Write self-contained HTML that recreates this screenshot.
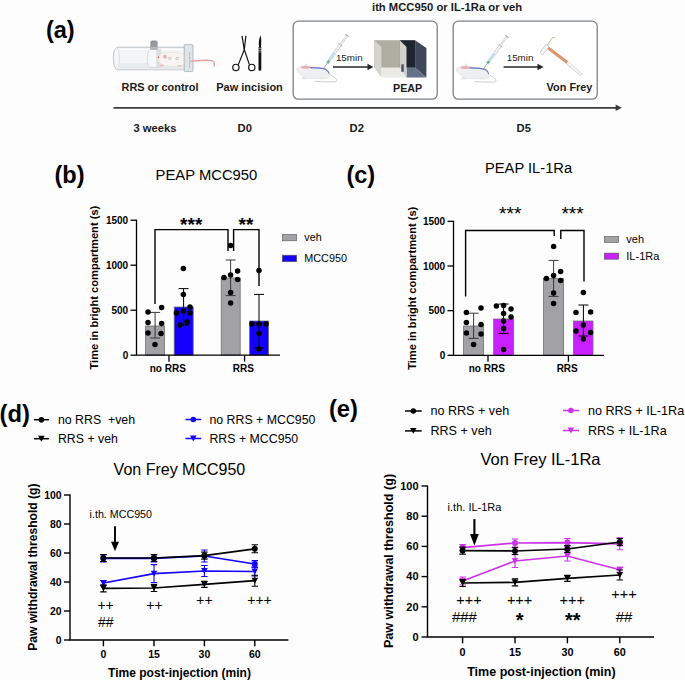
<!DOCTYPE html>
<html><head><meta charset="utf-8"><style>
html,body{margin:0;padding:0;background:#fff;}
svg{display:block;font-family:"Liberation Sans", sans-serif;}
</style></head><body>
<svg width="685" height="680" viewBox="0 0 685 680">
<rect width="685" height="680" fill="#fdfdfd"/>
<text x="45.9" y="38.1" font-size="23.6" text-anchor="start" fill="#000" style="font-weight:bold;" >(a)</text>
<text x="372.0" y="10.5" font-size="11.25" text-anchor="start" fill="#1a1a1a" style="font-weight:bold;" >ith MCC950 or IL-1Ra or veh</text>
<g>
<path d="M117.5,47.2 H184.5 V69.8 H117.5 A4.2,11.3 0 0 1 117.5,47.2 Z" fill="#f3f5f6" stroke="#b5babe" stroke-width="0.9" />
<rect x="119.5" y="63.2" width="65" height="6.1" fill="#e8ebed" stroke="none" stroke-width="0" />
<ellipse cx="116.6" cy="58.5" rx="2.9" ry="10.7" fill="#f6f7f8" stroke="#ccd0d3" stroke-width="0.6"/>
<line x1="120" y1="49.6" x2="183" y2="49.6" stroke="#ffffff" stroke-width="1.0" />
<path d="M150.5,49.4 H160.8 V67.3 H150.5 A3.2,8.95 0 0 1 150.5,49.4 Z" fill="#f7f8f9" stroke="#c3c7cb" stroke-width="0.6" />
<rect x="156.2" y="49.6" width="4.6" height="17.5" fill="#dcdfe2" stroke="none" stroke-width="0" />
<path d="M150.4,49.4 V42.6 Q150.4,40.6 152.4,40.6 H155.6 Q157.6,40.6 157.6,42.6 V49.4 Z" fill="#8e9296" stroke="none" stroke-width="1.0" />
<rect x="150.4" y="46.6" width="7.2" height="2.8" fill="#b3b7bb" stroke="none" stroke-width="0" />
<line x1="152.2" y1="41.5" x2="152.2" y2="46" stroke="#a5a9ad" stroke-width="0.5" />
<line x1="154" y1="41.5" x2="154" y2="46" stroke="#a5a9ad" stroke-width="0.5" />
<line x1="155.8" y1="41.5" x2="155.8" y2="46" stroke="#a5a9ad" stroke-width="0.5" />
<path d="M158.3,57.5 C159.5,54 163,52.3 168,52.4 C174,52.2 181,52.5 184.8,55 C186.2,57 186,62 184.6,64.5 C181,66.6 173,66.9 168,66.3 C164,66 160.5,64.5 158.8,61.5 Z" fill="#f7f4f2" stroke="#e2d6d2" stroke-width="0.5"/>
<ellipse cx="165" cy="56.6" rx="1.8" ry="2.2" fill="#eab3b1"/>
<ellipse cx="169.8" cy="58.4" rx="1.4" ry="1.1" fill="none" stroke="#9fa3a6" stroke-width="0.55"/>
<ellipse cx="177.2" cy="58.4" rx="1.4" ry="1.1" fill="none" stroke="#9fa3a6" stroke-width="0.55"/>
<circle cx="158.5" cy="57.3" r="0.7" fill="#c43a3a" />
<ellipse cx="162" cy="65.6" rx="2.2" ry="1" fill="#efc0bb"/>
<ellipse cx="179.4" cy="66" rx="2.2" ry="1" fill="#efc0bb"/>
<rect x="184.2" y="44.6" width="8.8" height="27" fill="#dfe5e8" stroke="#a7adb1" stroke-width="0.8" rx="1"/>
<line x1="189.6" y1="52" x2="189.6" y2="68" stroke="#a9afb3" stroke-width="0.7" />
<path d="M190.5,61.3 C198,60.6 207,59.6 211.5,60.6 C214.5,61.4 214.8,64 214,66.6" fill="none" stroke="#e89e9c" stroke-width="1.3" />
</g>
<g fill="none" stroke="#111" stroke-width="1.2">
<circle cx="235.9" cy="67.4" r="3.15"/>
<circle cx="251.8" cy="67.4" r="3.15"/>
<path d="M238.3,64.6 L244.3,49.6 L245.9,35.8"/>
<path d="M249.4,64.6 L244.3,49.6 L242.0,35.8"/>
</g>
<path d="M258.5,47.2 H261.3 V70.3 Q259.9,71.2 258.5,70.3 Z" fill="#111" stroke="none" stroke-width="1.0" />
<path d="M259.2,47.5 C258.4,43 258.6,39 260.7,35.2 C261.5,39 261.3,43 261.0,47.5 Z" fill="#111" stroke="none" stroke-width="1.0" />
<line x1="258.2" y1="48.6" x2="261.6" y2="48.6" stroke="#fff" stroke-width="0.5" />
<line x1="258.2" y1="50.3" x2="261.6" y2="50.3" stroke="#fff" stroke-width="0.5" />
<line x1="258.2" y1="52.0" x2="261.6" y2="52.0" stroke="#fff" stroke-width="0.5" />
<rect x="293.2" y="21.2" width="144" height="78" rx="5" fill="#fff" stroke="#7d8185" stroke-width="1.3"/>
<rect x="453.2" y="21.2" width="144" height="78" rx="5" fill="#fff" stroke="#7d8185" stroke-width="1.3"/>
<g transform="translate(296.6,68.9)"><path d="M33,5.5 C37.5,8 41.2,10.6 39.6,12.5 C37.5,13.6 26,12.7 18.4,12.5" fill="none" stroke="#c4c8cb" stroke-width="0.9"/><path d="M0,0 C1.5,-1.8 4,-3 8,-3.2 C14,-3.2 20,-1.8 27.5,-0.6 C30.5,0.2 32.8,3 33,6.5 C33,8.5 31.5,9.6 29,9.6 L12,9.6 C8,9.4 5,7 3,4.5 C1.5,3 0.2,1.6 0,0 Z" fill="#eeeff0" stroke="#d5d8da" stroke-width="0.5"/><path d="M6.5,7.5 L4.6,10.3 L10,10.3 L10.5,8.5 Z" fill="#e3e5e7"/><path d="M24,8 L23,10.4 L28,10.4 L29,8.5 Z" fill="#e6e8ea"/><ellipse cx="9" cy="-1.7" rx="4.4" ry="1.5" fill="#e7b2ae"/><circle cx="9.8" cy="-4.2" r="1.3" fill="#e3e5e7"/><path d="M13.3,-1.3 C20,-1 26,-0.7 28.5,0 C31,1.5 32.2,3.5 32.5,4.7" fill="none" stroke="#5f73c9" stroke-width="1.2"/><path d="M13.3,-1.3 C20,-1 26,-0.7 28.5,0 C31,1.5 32.2,3.5 32.5,4.7" fill="none" stroke="#d4898b" stroke-width="0.45" stroke-dasharray="1.2 1.2"/></g>
<g transform="translate(323.9,67.9) rotate(-54.40)"><line x1="0" y1="0" x2="6.11" y2="0" stroke="#6a6d70" stroke-width="0.6"/><rect x="6.11" y="-1.2" width="22.39" height="2.4" fill="#f4f6f7" stroke="#a9afb3" stroke-width="0.5"/><rect x="6.11" y="-0.95" width="3.05" height="1.9" fill="#4fb08f"/><rect x="9.16" y="-0.95" width="9.16" height="1.9" fill="#b7e3e8"/><line x1="28.50" y1="-2.3" x2="28.50" y2="2.3" stroke="#a9afb3" stroke-width="0.9"/><rect x="28.50" y="-0.8" width="11.41" height="1.6" fill="#eceff1" stroke="#b3b9bd" stroke-width="0.4"/><line x1="39.91" y1="-2.1" x2="39.91" y2="2.1" stroke="#a9afb3" stroke-width="1.1"/></g>
<g transform="translate(456.1,69.1)"><path d="M33,5.5 C37.5,8 41.2,10.6 39.6,12.5 C37.5,13.6 26,12.7 18.4,12.5" fill="none" stroke="#c4c8cb" stroke-width="0.9"/><path d="M0,0 C1.5,-1.8 4,-3 8,-3.2 C14,-3.2 20,-1.8 27.5,-0.6 C30.5,0.2 32.8,3 33,6.5 C33,8.5 31.5,9.6 29,9.6 L12,9.6 C8,9.4 5,7 3,4.5 C1.5,3 0.2,1.6 0,0 Z" fill="#eeeff0" stroke="#d5d8da" stroke-width="0.5"/><path d="M6.5,7.5 L4.6,10.3 L10,10.3 L10.5,8.5 Z" fill="#e3e5e7"/><path d="M24,8 L23,10.4 L28,10.4 L29,8.5 Z" fill="#e6e8ea"/><ellipse cx="9" cy="-1.7" rx="4.4" ry="1.5" fill="#e7b2ae"/><circle cx="9.8" cy="-4.2" r="1.3" fill="#e3e5e7"/><path d="M13.3,-1.3 C20,-1 26,-0.7 28.5,0 C31,1.5 32.2,3.5 32.5,4.7" fill="none" stroke="#5f73c9" stroke-width="1.2"/><path d="M13.3,-1.3 C20,-1 26,-0.7 28.5,0 C31,1.5 32.2,3.5 32.5,4.7" fill="none" stroke="#d4898b" stroke-width="0.45" stroke-dasharray="1.2 1.2"/></g>
<g transform="translate(483.9,68.3) rotate(-54.05)"><line x1="0" y1="0" x2="6.00" y2="0" stroke="#6a6d70" stroke-width="0.6"/><rect x="6.00" y="-1.2" width="22.01" height="2.4" fill="#f4f6f7" stroke="#a9afb3" stroke-width="0.5"/><rect x="6.00" y="-0.95" width="3.00" height="1.9" fill="#4fb08f"/><rect x="9.01" y="-0.95" width="9.01" height="1.9" fill="#b7e3e8"/><line x1="28.02" y1="-2.3" x2="28.02" y2="2.3" stroke="#a9afb3" stroke-width="0.9"/><rect x="28.02" y="-0.8" width="11.21" height="1.6" fill="#eceff1" stroke="#b3b9bd" stroke-width="0.4"/><line x1="39.23" y1="-2.1" x2="39.23" y2="2.1" stroke="#a9afb3" stroke-width="1.1"/></g>
<text x="335.9" y="61.3" font-size="9.8" text-anchor="start" fill="#222" style="" >15min</text>
<path d="M332.9,67 H368.5" fill="none" stroke="#262626" stroke-width="1.4" />
<path d="M367.5,63.8 L373.4,67 L367.5,70.2 Z" fill="#262626" stroke="none" stroke-width="1.0" />
<text x="506.7" y="61.3" font-size="9.8" text-anchor="start" fill="#222" style="" >15min</text>
<path d="M503.6,67 H538.5" fill="none" stroke="#262626" stroke-width="1.4" />
<path d="M537.5,63.8 L543.6,67 L537.5,70.2 Z" fill="#262626" stroke="none" stroke-width="1.0" />
<g>
<rect x="374.3" y="40.2" width="25.5" height="27.6" fill="#aeaea3" stroke="none" stroke-width="0" />
<path d="M374.3,40.2 L381.4,46.9 L381.4,77.5 L374.3,67.8 Z" fill="#d5d5cd" stroke="none" stroke-width="1.0" />
<path d="M381.4,67.8 L399.8,67.8 L406.5,77.5 L381.4,77.5 Z" fill="#ebebe5" stroke="none" stroke-width="1.0" />
<rect x="399.8" y="40.2" width="15.3" height="27.6" fill="#1e252e" stroke="none" stroke-width="0" />
<path d="M415.1,40.2 L426.4,47.9 L426.4,77.5 L415.1,67.8 Z" fill="#3f4758" stroke="none" stroke-width="1.0" />
<path d="M406.5,67.8 L415.1,67.8 L426.4,77.5 L406.5,77.5 Z" fill="#67718a" stroke="none" stroke-width="1.0" />
<path d="M399.8,40.2 L406.5,46.9 L406.5,77.5 L399.8,67.8 Z" fill="#d2d2ca" stroke="none" stroke-width="1.0" />
<rect x="401.3" y="64.3" width="2.5" height="7.5" fill="#4a5568" stroke="none" stroke-width="0" />
</g>
<g fill="none" stroke-linecap="round">
<path d="M567,62.4 L580.6,73.9" fill="none" stroke="#c3c8cb" stroke-width="3.3" />
<path d="M567,62.4 L580.6,73.9" fill="none" stroke="#f3f5f6" stroke-width="2.2" />
<path d="M547.6,47.4 L567.3,62.6" fill="none" stroke="#dc9670" stroke-width="3.1" stroke-linecap="butt"/>
<path d="M542.3,52.4 L546.8,46.6" fill="none" stroke="#b9bec2" stroke-width="4.4" />
<path d="M542.3,52.4 L546.8,46.6" fill="none" stroke="#f4f6f7" stroke-width="3.3" />
<path d="M547.4,45.2 C548.6,44 549.6,42.2 550.4,40.4 C551.2,38.6 552.4,37.4 554.6,37.4" fill="none" stroke="#b5a45a" stroke-width="0.75" />
</g>
<text x="121.6" y="90.8" font-size="10.9" text-anchor="start" fill="#1a1a1a" style="font-weight:bold;" >RRS or control</text>
<text x="216.2" y="90.8" font-size="11.0" text-anchor="start" fill="#1a1a1a" style="font-weight:bold;" >Paw incision</text>
<text x="393" y="91.6" font-size="10.7" text-anchor="start" fill="#1a1a1a" style="font-weight:bold;" >PEAP</text>
<text x="546.6" y="91.2" font-size="10.9" text-anchor="start" fill="#1a1a1a" style="font-weight:bold;" >Von Frey</text>
<path d="M113.6,107.8 H617" fill="none" stroke="#3a3a3a" stroke-width="1.8" />
<path d="M615.6,104.6 L621.8,107.8 L615.6,111 Z" fill="#3a3a3a" stroke="none" stroke-width="1.0" />
<text x="133.5" y="131.6" font-size="11.2" text-anchor="start" fill="#1a1a1a" style="font-weight:bold;" >3 weeks</text>
<text x="237.6" y="131.6" font-size="11.2" text-anchor="start" fill="#1a1a1a" style="font-weight:bold;" >D0</text>
<text x="349.6" y="131.8" font-size="11.2" text-anchor="start" fill="#1a1a1a" style="font-weight:bold;" >D2</text>
<text x="516.6" y="131.8" font-size="11.2" text-anchor="start" fill="#1a1a1a" style="font-weight:bold;" >D5</text>
<text x="54.4" y="183.4" font-size="23.6" text-anchor="start" fill="#000" style="font-weight:bold;" >(b)</text>
<text x="155.6" y="180" font-size="14.8" text-anchor="start" fill="#000" style="" >PEAP MCC950</text>
<text x="0" y="0" font-size="11.15" text-anchor="middle" fill="#000" style="font-weight:bold;" transform="translate(97.9,287.6) rotate(-90)">Time in bright compartment (s)</text>
<rect x="145.6" y="326" width="19" height="29.19999999999999" fill="#a2a2a6" stroke="#707070" stroke-width="0.8" />
<rect x="174.2" y="307" width="19" height="48.19999999999999" fill="#1400ff" stroke="#707070" stroke-width="0.8" />
<rect x="221.2" y="278" width="19" height="77.19999999999999" fill="#a2a2a6" stroke="#707070" stroke-width="0.8" />
<rect x="249.6" y="321" width="19" height="34.19999999999999" fill="#1400ff" stroke="#707070" stroke-width="0.8" />
<path d="M150.1,312.4 H160.1 M155.1,312.4 V338 M150.1,338 H160.1" fill="none" stroke="#3a3a3a" stroke-width="1.0" />
<path d="M178.6,288.6 H188.6 M183.6,288.6 V325 M178.6,325 H188.6" fill="none" stroke="#000" stroke-width="1.0" />
<path d="M225.6,260 H235.6 M230.6,260 V295.6 M225.6,295.6 H235.6" fill="none" stroke="#3a3a3a" stroke-width="1.0" />
<path d="M254,294.4 H264 M259,294.4 V348 M254,348 H264" fill="none" stroke="#000" stroke-width="1.0" />
<circle cx="148" cy="312" r="2.75" fill="#000" />
<circle cx="161.6" cy="307.6" r="2.75" fill="#000" />
<circle cx="148" cy="322.4" r="2.75" fill="#000" />
<circle cx="161.6" cy="323.6" r="2.75" fill="#000" />
<circle cx="148" cy="333" r="2.75" fill="#000" />
<circle cx="161" cy="333.6" r="2.75" fill="#000" />
<circle cx="155" cy="344.6" r="2.75" fill="#000" />
<circle cx="183.4" cy="268.4" r="2.75" fill="#000" />
<circle cx="183.4" cy="294.6" r="2.75" fill="#000" />
<circle cx="176.4" cy="313" r="2.75" fill="#000" />
<circle cx="183.4" cy="311" r="2.75" fill="#000" />
<circle cx="190" cy="307" r="2.75" fill="#000" />
<circle cx="190" cy="313" r="2.75" fill="#000" />
<circle cx="180" cy="325" r="2.75" fill="#000" />
<circle cx="187" cy="322" r="2.75" fill="#000" />
<circle cx="230.6" cy="245.6" r="2.75" fill="#000" />
<circle cx="224" cy="277.6" r="2.75" fill="#000" />
<circle cx="230.6" cy="275" r="2.75" fill="#000" />
<circle cx="237.6" cy="271" r="2.75" fill="#000" />
<circle cx="237.6" cy="279.4" r="2.75" fill="#000" />
<circle cx="230.6" cy="292.4" r="2.75" fill="#000" />
<circle cx="230.6" cy="303" r="2.75" fill="#000" />
<circle cx="259" cy="270.4" r="2.75" fill="#000" />
<circle cx="252" cy="324" r="2.75" fill="#000" />
<circle cx="259" cy="324" r="2.75" fill="#000" />
<circle cx="266" cy="324" r="2.75" fill="#000" />
<circle cx="259" cy="333.6" r="2.75" fill="#000" />
<circle cx="259" cy="349" r="2.75" fill="#000" />
<path d="M136.5,219.7 V355.2 H280" fill="none" stroke="#000" stroke-width="1.3" />
<line x1="130.5" y1="355.2" x2="136.5" y2="355.2" stroke="#000" stroke-width="1.3" />
<text x="128.2" y="358.7" font-size="10" text-anchor="end" fill="#000" style="font-weight:bold;" >0</text>
<line x1="130.5" y1="310.2" x2="136.5" y2="310.2" stroke="#000" stroke-width="1.3" />
<text x="128.2" y="313.7" font-size="10" text-anchor="end" fill="#000" style="font-weight:bold;" >500</text>
<line x1="130.5" y1="265.2" x2="136.5" y2="265.2" stroke="#000" stroke-width="1.3" />
<text x="128.2" y="268.7" font-size="10" text-anchor="end" fill="#000" style="font-weight:bold;" >1000</text>
<line x1="130.5" y1="220.2" x2="136.5" y2="220.2" stroke="#000" stroke-width="1.3" />
<text x="128.2" y="223.7" font-size="10" text-anchor="end" fill="#000" style="font-weight:bold;" >1500</text>
<line x1="169" y1="355.2" x2="169" y2="361.7" stroke="#000" stroke-width="1.3" />
<text x="167.8" y="371.5" font-size="10" text-anchor="middle" fill="#000" style="font-weight:bold;" >no RRS</text>
<line x1="244.6" y1="355.2" x2="244.6" y2="361.7" stroke="#000" stroke-width="1.3" />
<text x="243.4" y="371.5" font-size="10" text-anchor="middle" fill="#000" style="font-weight:bold;" >RRS</text>
<path d="M155,304 V229.6 H228 V251 M233.6,251 V229.6 H259 V286" fill="none" stroke="#000" stroke-width="1.4" />
<text x="191.2" y="230.8" font-size="19" text-anchor="middle" fill="#000" style="font-weight:bold;" >***</text>
<text x="246" y="230.8" font-size="19" text-anchor="middle" fill="#000" style="font-weight:bold;" >**</text>
<rect x="282.3" y="234.5" width="14.4" height="6.3" fill="#a2a2a6" stroke="#555" stroke-width="0.6" />
<text x="304.3" y="240.9" font-size="10.8" text-anchor="start" fill="#000" style="" >veh</text>
<rect x="282.3" y="255.2" width="14.4" height="6.5" fill="#1400ff" stroke="#555" stroke-width="0.6" />
<text x="304.3" y="261.6" font-size="10.8" text-anchor="start" fill="#000" style="" >MCC950</text>
<text x="346.4" y="182.6" font-size="23.6" text-anchor="start" fill="#000" style="font-weight:bold;" >(c)</text>
<text x="485" y="173.4" font-size="14.7" text-anchor="start" fill="#000" style="" >PEAP IL-1Ra</text>
<text x="0" y="0" font-size="11.1" text-anchor="middle" fill="#000" style="font-weight:bold;" transform="translate(415.9,288.3) rotate(-90)">Time in bright compartment (s)</text>
<rect x="463.6" y="326" width="20" height="29.30000000000001" fill="#a2a2a6" stroke="#707070" stroke-width="0.8" />
<rect x="493.6" y="319" width="20" height="36.30000000000001" fill="#c820ff" stroke="#707070" stroke-width="0.8" />
<rect x="543.6" y="278.4" width="20" height="76.90000000000003" fill="#a2a2a6" stroke="#707070" stroke-width="0.8" />
<rect x="573.4" y="321" width="19.6" height="34.30000000000001" fill="#c820ff" stroke="#707070" stroke-width="0.8" />
<path d="M468.6,313.2 H478.6 M473.6,313.2 V338.4 M468.6,338.4 H478.6" fill="none" stroke="#3a3a3a" stroke-width="1.0" />
<path d="M498.6,304 H508.6 M503.6,304 V333.4 M498.6,333.4 H508.6" fill="none" stroke="#000" stroke-width="1.0" />
<path d="M548.6,260.4 H558.6 M553.6,260.4 V296.4 M548.6,296.4 H558.6" fill="none" stroke="#3a3a3a" stroke-width="1.0" />
<path d="M578.4,305 H588.4 M583.4,305 V336 M578.4,336 H588.4" fill="none" stroke="#000" stroke-width="1.0" />
<circle cx="466.4" cy="312.4" r="2.75" fill="#000" />
<circle cx="481" cy="308" r="2.75" fill="#000" />
<circle cx="466.4" cy="322.4" r="2.75" fill="#000" />
<circle cx="481" cy="324.4" r="2.75" fill="#000" />
<circle cx="466.4" cy="333" r="2.75" fill="#000" />
<circle cx="481" cy="334" r="2.75" fill="#000" />
<circle cx="473.6" cy="344.6" r="2.75" fill="#000" />
<circle cx="496.4" cy="306" r="2.75" fill="#000" />
<circle cx="503.6" cy="305.6" r="2.75" fill="#000" />
<circle cx="511" cy="309" r="2.75" fill="#000" />
<circle cx="503.6" cy="313.6" r="2.75" fill="#000" />
<circle cx="511" cy="317" r="2.75" fill="#000" />
<circle cx="503.6" cy="321" r="2.75" fill="#000" />
<circle cx="503.6" cy="328.6" r="2.75" fill="#000" />
<circle cx="503.6" cy="349.6" r="2.75" fill="#000" />
<circle cx="553.6" cy="246.6" r="2.75" fill="#000" />
<circle cx="546.4" cy="278.4" r="2.75" fill="#000" />
<circle cx="553.6" cy="275.6" r="2.75" fill="#000" />
<circle cx="560.6" cy="271.6" r="2.75" fill="#000" />
<circle cx="560.6" cy="280.4" r="2.75" fill="#000" />
<circle cx="553.6" cy="293" r="2.75" fill="#000" />
<circle cx="553.6" cy="303.6" r="2.75" fill="#000" />
<circle cx="583.4" cy="292.6" r="2.75" fill="#000" />
<circle cx="576" cy="312.4" r="2.75" fill="#000" />
<circle cx="590.6" cy="312" r="2.75" fill="#000" />
<circle cx="583.4" cy="325" r="2.75" fill="#000" />
<circle cx="576" cy="331" r="2.75" fill="#000" />
<circle cx="590.6" cy="332.4" r="2.75" fill="#000" />
<circle cx="583.4" cy="339" r="2.75" fill="#000" />
<path d="M453.5,220.85 V355.3 H604" fill="none" stroke="#000" stroke-width="1.3" />
<line x1="447.5" y1="355.3" x2="453.5" y2="355.3" stroke="#000" stroke-width="1.3" />
<text x="445.2" y="358.8" font-size="10" text-anchor="end" fill="#000" style="font-weight:bold;" >0</text>
<line x1="447.5" y1="310.65" x2="453.5" y2="310.65" stroke="#000" stroke-width="1.3" />
<text x="445.2" y="314.15" font-size="10" text-anchor="end" fill="#000" style="font-weight:bold;" >500</text>
<line x1="447.5" y1="266.0" x2="453.5" y2="266.0" stroke="#000" stroke-width="1.3" />
<text x="445.2" y="269.5" font-size="10" text-anchor="end" fill="#000" style="font-weight:bold;" >1000</text>
<line x1="447.5" y1="221.35" x2="453.5" y2="221.35" stroke="#000" stroke-width="1.3" />
<text x="445.2" y="224.85" font-size="10" text-anchor="end" fill="#000" style="font-weight:bold;" >1500</text>
<line x1="488" y1="355.3" x2="488" y2="361.8" stroke="#000" stroke-width="1.3" />
<text x="486.8" y="371.6" font-size="10" text-anchor="middle" fill="#000" style="font-weight:bold;" >no RRS</text>
<line x1="568.4" y1="355.3" x2="568.4" y2="361.8" stroke="#000" stroke-width="1.3" />
<text x="567.1999999999999" y="371.6" font-size="10" text-anchor="middle" fill="#000" style="font-weight:bold;" >RRS</text>
<path d="M465.6,296.4 V230.5 H554.2 V236 M560.8,239 V230.5 H584 V281.4" fill="none" stroke="#000" stroke-width="1.4" />
<text x="510.2" y="220.3" font-size="19.2" text-anchor="middle" fill="#000" style="" >***</text>
<text x="572.6" y="220.3" font-size="19.2" text-anchor="middle" fill="#000" style="" >***</text>
<rect x="604.4" y="236.5" width="14.2" height="6.0" fill="#a2a2a6" stroke="#555" stroke-width="0.6" />
<text x="626.3" y="243.1" font-size="11" text-anchor="start" fill="#000" style="" >veh</text>
<rect x="604.4" y="253.1" width="14.2" height="6.1" fill="#c820ff" stroke="#555" stroke-width="0.6" />
<text x="626.3" y="259.5" font-size="11" text-anchor="start" fill="#000" style="" >IL-1Ra</text>
<text x="-0.5" y="422.3" font-size="23.8" text-anchor="start" fill="#000" style="font-weight:bold;" >(d)</text>
<text x="113.6" y="474.8" font-size="16" text-anchor="start" fill="#000" style="" >Von Frey MCC950</text>
<text x="0" y="0" font-size="12.1" text-anchor="middle" fill="#000" style="font-weight:bold;" transform="translate(36.9,567.2) rotate(-90)">Paw withdrawal threshold (g)</text>
<line x1="33.9" y1="419.7" x2="48.9" y2="419.7" stroke="#000" stroke-width="1.5" />
<circle cx="41.4" cy="419.7" r="2.8" fill="#000" />
<text x="57.9" y="424" font-size="12.35" text-anchor="start" fill="#000" style="" >no RRS&#160; +veh</text>
<line x1="33.9" y1="438.7" x2="48.9" y2="438.7" stroke="#000" stroke-width="1.5" />
<path d="M38.10,435.73 L44.70,435.73 L41.40,441.67 Z" fill="#000"/>
<text x="57.9" y="442.7" font-size="12.35" text-anchor="start" fill="#000" style="" >RRS + veh</text>
<line x1="185.5" y1="419.5" x2="201.2" y2="419.5" stroke="#1400ff" stroke-width="1.5" />
<circle cx="193.3" cy="419.5" r="2.8" fill="#1400ff" />
<text x="209.4" y="424" font-size="12.35" text-anchor="start" fill="#000" style="" >no RRS + MCC950</text>
<line x1="185.5" y1="438.5" x2="201.2" y2="438.5" stroke="#1400ff" stroke-width="1.5" />
<path d="M190.00,435.53 L196.60,435.53 L193.30,441.47 Z" fill="#1400ff"/>
<text x="209.4" y="442.7" font-size="12.35" text-anchor="start" fill="#000" style="" >RRS + MCC950</text>
<path d="M70,494.5 V640 H288.4" fill="none" stroke="#000" stroke-width="1.4" />
<line x1="64" y1="640.0" x2="70" y2="640.0" stroke="#000" stroke-width="1.4" />
<text x="61.6" y="643.8" font-size="10.4" text-anchor="end" fill="#000" style="font-weight:bold;" >0</text>
<line x1="64" y1="611.0" x2="70" y2="611.0" stroke="#000" stroke-width="1.4" />
<text x="61.6" y="614.8" font-size="10.4" text-anchor="end" fill="#000" style="font-weight:bold;" >20</text>
<line x1="64" y1="582.0" x2="70" y2="582.0" stroke="#000" stroke-width="1.4" />
<text x="61.6" y="585.8" font-size="10.4" text-anchor="end" fill="#000" style="font-weight:bold;" >40</text>
<line x1="64" y1="553.0" x2="70" y2="553.0" stroke="#000" stroke-width="1.4" />
<text x="61.6" y="556.8" font-size="10.4" text-anchor="end" fill="#000" style="font-weight:bold;" >60</text>
<line x1="64" y1="524.0" x2="70" y2="524.0" stroke="#000" stroke-width="1.4" />
<text x="61.6" y="527.8" font-size="10.4" text-anchor="end" fill="#000" style="font-weight:bold;" >80</text>
<line x1="64" y1="495.0" x2="70" y2="495.0" stroke="#000" stroke-width="1.4" />
<text x="61.6" y="498.8" font-size="10.4" text-anchor="end" fill="#000" style="font-weight:bold;" >100</text>
<line x1="103.4" y1="640" x2="103.4" y2="646.3" stroke="#000" stroke-width="1.4" />
<text x="103.4" y="657.5" font-size="10.5" text-anchor="middle" fill="#000" style="font-weight:bold;" >0</text>
<line x1="154" y1="640" x2="154" y2="646.3" stroke="#000" stroke-width="1.4" />
<text x="154" y="657.5" font-size="10.5" text-anchor="middle" fill="#000" style="font-weight:bold;" >15</text>
<line x1="204.4" y1="640" x2="204.4" y2="646.3" stroke="#000" stroke-width="1.4" />
<text x="204.4" y="657.5" font-size="10.5" text-anchor="middle" fill="#000" style="font-weight:bold;" >30</text>
<line x1="254.8" y1="640" x2="254.8" y2="646.3" stroke="#000" stroke-width="1.4" />
<text x="254.8" y="657.5" font-size="10.5" text-anchor="middle" fill="#000" style="font-weight:bold;" >60</text>
<text x="179.5" y="676.7" font-size="12.05" text-anchor="middle" fill="#000" style="font-weight:bold;" >Time post-injection (min)</text>
<text x="89.6" y="518.4" font-size="10.7" text-anchor="start" fill="#000" style="" >i.th. MCC950</text>
<line x1="115" y1="526.2" x2="115" y2="543.8000000000001" stroke="#000" stroke-width="1.9" />
<path d="M111.05,541.8000000000001 L118.95,541.8000000000001 L115,551.2 Z" fill="#000"/>
<polyline points="103.4,558.4 154,558.4 204.4,556 254.8,564" fill="none" stroke="#1400ff" stroke-width="1.7"/>
<polyline points="103.4,583 154,573.6 204.4,571 254.8,571.5" fill="none" stroke="#1400ff" stroke-width="1.7"/>
<polyline points="103.4,558 154,558 204.4,555.6 254.8,548.8" fill="none" stroke="#000" stroke-width="1.7"/>
<polyline points="103.4,588.4 154,588 204.4,584.4 254.8,580.7" fill="none" stroke="#000" stroke-width="1.7"/>
<path d="M100.2,554.9 H106.60000000000001 M103.4,554.9 V561.9 M100.2,561.9 H106.60000000000001" fill="none" stroke="#1400ff" stroke-width="1.1" />
<circle cx="103.4" cy="558.4" r="3.0" fill="#1400ff" />
<path d="M150.8,554.9 H157.2 M154,554.9 V561.9 M150.8,561.9 H157.2" fill="none" stroke="#1400ff" stroke-width="1.1" />
<circle cx="154" cy="558.4" r="3.0" fill="#1400ff" />
<path d="M201.20000000000002,550 H207.6 M204.4,550 V562 M201.20000000000002,562 H207.6" fill="none" stroke="#1400ff" stroke-width="1.1" />
<circle cx="204.4" cy="556" r="3.0" fill="#1400ff" />
<path d="M251.60000000000002,560.6 H258.0 M254.8,560.6 V567.4 M251.60000000000002,567.4 H258.0" fill="none" stroke="#1400ff" stroke-width="1.1" />
<circle cx="254.8" cy="564" r="3.0" fill="#1400ff" />
<path d="M100.2,580.5 H106.60000000000001 M103.4,580.5 V585.5 M100.2,585.5 H106.60000000000001" fill="none" stroke="#1400ff" stroke-width="1.1" />
<path d="M100.10,580.03 L106.70,580.03 L103.40,585.97 Z" fill="#1400ff"/>
<path d="M150.8,564.6 H157.2 M154,564.6 V582.6 M150.8,582.6 H157.2" fill="none" stroke="#1400ff" stroke-width="1.1" />
<path d="M150.70,570.63 L157.30,570.63 L154.00,576.57 Z" fill="#1400ff"/>
<path d="M201.20000000000002,565.5 H207.6 M204.4,565.5 V576.5 M201.20000000000002,576.5 H207.6" fill="none" stroke="#1400ff" stroke-width="1.1" />
<path d="M201.10,568.03 L207.70,568.03 L204.40,573.97 Z" fill="#1400ff"/>
<path d="M251.60000000000002,567.0 H258.0 M254.8,567.0 V576.0 M251.60000000000002,576.0 H258.0" fill="none" stroke="#1400ff" stroke-width="1.1" />
<path d="M251.50,568.53 L258.10,568.53 L254.80,574.47 Z" fill="#1400ff"/>
<path d="M100.2,554.5 H106.60000000000001 M103.4,554.5 V561.5 M100.2,561.5 H106.60000000000001" fill="none" stroke="#000" stroke-width="1.1" />
<circle cx="103.4" cy="558" r="3.0" fill="#000" />
<path d="M150.8,554.5 H157.2 M154,554.5 V561.5 M150.8,561.5 H157.2" fill="none" stroke="#000" stroke-width="1.1" />
<circle cx="154" cy="558" r="3.0" fill="#000" />
<path d="M201.20000000000002,552.1 H207.6 M204.4,552.1 V559.1 M201.20000000000002,559.1 H207.6" fill="none" stroke="#000" stroke-width="1.1" />
<circle cx="204.4" cy="555.6" r="3.0" fill="#000" />
<path d="M251.60000000000002,544.8 H258.0 M254.8,544.8 V552.8 M251.60000000000002,552.8 H258.0" fill="none" stroke="#000" stroke-width="1.1" />
<circle cx="254.8" cy="548.8" r="3.0" fill="#000" />
<path d="M100.2,584.9 H106.60000000000001 M103.4,584.9 V591.9 M100.2,591.9 H106.60000000000001" fill="none" stroke="#000" stroke-width="1.1" />
<path d="M100.10,585.43 L106.70,585.43 L103.40,591.37 Z" fill="#000"/>
<path d="M150.8,584.5 H157.2 M154,584.5 V591.5 M150.8,591.5 H157.2" fill="none" stroke="#000" stroke-width="1.1" />
<path d="M150.70,585.03 L157.30,585.03 L154.00,590.97 Z" fill="#000"/>
<path d="M201.20000000000002,581.4 H207.6 M204.4,581.4 V587.4 M201.20000000000002,587.4 H207.6" fill="none" stroke="#000" stroke-width="1.1" />
<path d="M201.10,581.43 L207.70,581.43 L204.40,587.37 Z" fill="#000"/>
<path d="M251.60000000000002,575.2 H258.0 M254.8,575.2 V586.2 M251.60000000000002,586.2 H258.0" fill="none" stroke="#000" stroke-width="1.1" />
<path d="M251.50,577.73 L258.10,577.73 L254.80,583.67 Z" fill="#000"/>
<text x="105.6" y="610" font-size="14" text-anchor="middle" fill="#000" style="" >++</text>
<text x="154.4" y="610" font-size="14" text-anchor="middle" fill="#000" style="" >++</text>
<text x="204.5" y="604.6" font-size="14" text-anchor="middle" fill="#000" style="" >++</text>
<text x="259.5" y="604.6" font-size="14" text-anchor="middle" fill="#000" style="" >+++</text>
<text x="105.7" y="627.4" font-size="14" text-anchor="middle" fill="#000" style="" >##</text>
<text x="328.9" y="417.1" font-size="23.8" text-anchor="start" fill="#000" style="font-weight:bold;" >(e)</text>
<text x="480.4" y="465.4" font-size="16.5" text-anchor="start" fill="#000" style="" >Von Frey IL-1Ra</text>
<text x="0" y="0" font-size="12.6" text-anchor="middle" fill="#000" style="font-weight:bold;" transform="translate(393,561) rotate(-90)">Paw withdrawal threshold (g)</text>
<line x1="405" y1="411" x2="421.7" y2="411" stroke="#000" stroke-width="1.5" />
<circle cx="413.3" cy="411" r="2.8" fill="#000" />
<text x="430.4" y="415.2" font-size="12.6" text-anchor="start" fill="#000" style="" >no RRS + veh</text>
<line x1="405" y1="430.9" x2="421.7" y2="430.9" stroke="#000" stroke-width="1.5" />
<path d="M410.00,427.93 L416.60,427.93 L413.30,433.87 Z" fill="#000"/>
<text x="430.4" y="435" font-size="12.6" text-anchor="start" fill="#000" style="" >RRS + veh</text>
<line x1="563" y1="410.5" x2="579.1" y2="410.5" stroke="#cc33e8" stroke-width="1.5" />
<circle cx="570.9" cy="410.5" r="2.8" fill="#cc33e8" />
<text x="587.9" y="415.2" font-size="12.6" text-anchor="start" fill="#000" style="" >no RRS + IL-1Ra</text>
<line x1="563" y1="430.5" x2="579.1" y2="430.5" stroke="#cc33e8" stroke-width="1.5" />
<path d="M567.60,427.53 L574.20,427.53 L570.90,433.47 Z" fill="#cc33e8"/>
<text x="587.9" y="434.9" font-size="12.6" text-anchor="start" fill="#000" style="" >RRS + IL-1Ra</text>
<path d="M427.5,485.5 V637 H654" fill="none" stroke="#000" stroke-width="1.4" />
<line x1="421.5" y1="637.0" x2="427.5" y2="637.0" stroke="#000" stroke-width="1.4" />
<text x="418.6" y="640.8" font-size="11" text-anchor="end" fill="#000" style="font-weight:bold;" >0</text>
<line x1="421.5" y1="606.8" x2="427.5" y2="606.8" stroke="#000" stroke-width="1.4" />
<text x="418.6" y="610.5999999999999" font-size="11" text-anchor="end" fill="#000" style="font-weight:bold;" >20</text>
<line x1="421.5" y1="576.6" x2="427.5" y2="576.6" stroke="#000" stroke-width="1.4" />
<text x="418.6" y="580.4" font-size="11" text-anchor="end" fill="#000" style="font-weight:bold;" >40</text>
<line x1="421.5" y1="546.4" x2="427.5" y2="546.4" stroke="#000" stroke-width="1.4" />
<text x="418.6" y="550.1999999999999" font-size="11" text-anchor="end" fill="#000" style="font-weight:bold;" >60</text>
<line x1="421.5" y1="516.2" x2="427.5" y2="516.2" stroke="#000" stroke-width="1.4" />
<text x="418.6" y="520.0" font-size="11" text-anchor="end" fill="#000" style="font-weight:bold;" >80</text>
<line x1="421.5" y1="486.0" x2="427.5" y2="486.0" stroke="#000" stroke-width="1.4" />
<text x="418.6" y="489.8" font-size="11" text-anchor="end" fill="#000" style="font-weight:bold;" >100</text>
<line x1="462.6" y1="637" x2="462.6" y2="643.3" stroke="#000" stroke-width="1.4" />
<text x="462.6" y="655.6" font-size="10.8" text-anchor="middle" fill="#000" style="font-weight:bold;" >0</text>
<line x1="515" y1="637" x2="515" y2="643.3" stroke="#000" stroke-width="1.4" />
<text x="515" y="655.6" font-size="10.8" text-anchor="middle" fill="#000" style="font-weight:bold;" >15</text>
<line x1="567.4" y1="637" x2="567.4" y2="643.3" stroke="#000" stroke-width="1.4" />
<text x="567.4" y="655.6" font-size="10.8" text-anchor="middle" fill="#000" style="font-weight:bold;" >30</text>
<line x1="619.8" y1="637" x2="619.8" y2="643.3" stroke="#000" stroke-width="1.4" />
<text x="619.8" y="655.6" font-size="10.8" text-anchor="middle" fill="#000" style="font-weight:bold;" >60</text>
<text x="541.4" y="675.9" font-size="12.5" text-anchor="middle" fill="#000" style="font-weight:bold;" >Time post-injection (min)</text>
<text x="447.6" y="510.7" font-size="11" text-anchor="start" fill="#000" style="" >i.th. IL-1Ra</text>
<line x1="474.4" y1="519.1" x2="474.4" y2="536.0" stroke="#000" stroke-width="2.1" />
<path d="M470.0,534.0 L478.79999999999995,534.0 L474.4,545.5 Z" fill="#000"/>
<polyline points="462.6,547.6 515,543 567.4,542.6 619.8,543.8" fill="none" stroke="#cc33e8" stroke-width="1.7"/>
<polyline points="462.6,581 515,561 567.4,556 619.8,569.8" fill="none" stroke="#cc33e8" stroke-width="1.7"/>
<polyline points="462.6,550.6 515,551 567.4,549 619.8,542" fill="none" stroke="#000" stroke-width="1.7"/>
<polyline points="462.6,583 515,582.4 567.4,578.4 619.8,575" fill="none" stroke="#000" stroke-width="1.7"/>
<path d="M459.40000000000003,544.6 H465.8 M462.6,544.6 V550.6 M459.40000000000003,550.6 H465.8" fill="none" stroke="#cc33e8" stroke-width="1.1" />
<circle cx="462.6" cy="547.6" r="3.0" fill="#cc33e8" />
<path d="M511.8,539 H518.2 M515,539 V547 M511.8,547 H518.2" fill="none" stroke="#cc33e8" stroke-width="1.1" />
<circle cx="515" cy="543" r="3.0" fill="#cc33e8" />
<path d="M564.1999999999999,538.6 H570.6 M567.4,538.6 V546.6 M564.1999999999999,546.6 H570.6" fill="none" stroke="#cc33e8" stroke-width="1.1" />
<circle cx="567.4" cy="542.6" r="3.0" fill="#cc33e8" />
<path d="M616.5999999999999,537.8 H623.0 M619.8,537.8 V549.8 M616.5999999999999,549.8 H623.0" fill="none" stroke="#cc33e8" stroke-width="1.1" />
<circle cx="619.8" cy="543.8" r="3.0" fill="#cc33e8" />
<path d="M459.40000000000003,577 H465.8 M462.6,577 V585 M459.40000000000003,585 H465.8" fill="none" stroke="#cc33e8" stroke-width="1.1" />
<path d="M459.30,578.03 L465.90,578.03 L462.60,583.97 Z" fill="#cc33e8"/>
<path d="M511.8,554.5 H518.2 M515,554.5 V567.5 M511.8,567.5 H518.2" fill="none" stroke="#cc33e8" stroke-width="1.1" />
<path d="M511.70,558.03 L518.30,558.03 L515.00,563.97 Z" fill="#cc33e8"/>
<path d="M564.1999999999999,551 H570.6 M567.4,551 V561 M564.1999999999999,561 H570.6" fill="none" stroke="#cc33e8" stroke-width="1.1" />
<path d="M564.10,553.03 L570.70,553.03 L567.40,558.97 Z" fill="#cc33e8"/>
<path d="M616.5999999999999,567.3 H623.0 M619.8,567.3 V572.3 M616.5999999999999,572.3 H623.0" fill="none" stroke="#cc33e8" stroke-width="1.1" />
<path d="M616.50,566.83 L623.10,566.83 L619.80,572.77 Z" fill="#cc33e8"/>
<path d="M459.40000000000003,547.1 H465.8 M462.6,547.1 V554.1 M459.40000000000003,554.1 H465.8" fill="none" stroke="#000" stroke-width="1.1" />
<circle cx="462.6" cy="550.6" r="3.0" fill="#000" />
<path d="M511.8,547.5 H518.2 M515,547.5 V554.5 M511.8,554.5 H518.2" fill="none" stroke="#000" stroke-width="1.1" />
<circle cx="515" cy="551" r="3.0" fill="#000" />
<path d="M564.1999999999999,545.5 H570.6 M567.4,545.5 V552.5 M564.1999999999999,552.5 H570.6" fill="none" stroke="#000" stroke-width="1.1" />
<circle cx="567.4" cy="549" r="3.0" fill="#000" />
<path d="M616.5999999999999,538.5 H623.0 M619.8,538.5 V545.5 M616.5999999999999,545.5 H623.0" fill="none" stroke="#000" stroke-width="1.1" />
<circle cx="619.8" cy="542" r="3.0" fill="#000" />
<path d="M459.40000000000003,579.5 H465.8 M462.6,579.5 V586.5 M459.40000000000003,586.5 H465.8" fill="none" stroke="#000" stroke-width="1.1" />
<path d="M459.30,580.03 L465.90,580.03 L462.60,585.97 Z" fill="#000"/>
<path d="M511.8,578.9 H518.2 M515,578.9 V585.9 M511.8,585.9 H518.2" fill="none" stroke="#000" stroke-width="1.1" />
<path d="M511.70,579.43 L518.30,579.43 L515.00,585.37 Z" fill="#000"/>
<path d="M564.1999999999999,575.4 H570.6 M567.4,575.4 V581.4 M564.1999999999999,581.4 H570.6" fill="none" stroke="#000" stroke-width="1.1" />
<path d="M564.10,575.43 L570.70,575.43 L567.40,581.37 Z" fill="#000"/>
<path d="M616.5999999999999,570 H623.0 M619.8,570 V580 M616.5999999999999,580 H623.0" fill="none" stroke="#000" stroke-width="1.1" />
<path d="M616.50,572.03 L623.10,572.03 L619.80,577.97 Z" fill="#000"/>
<text x="469" y="605.4" font-size="14.5" text-anchor="middle" fill="#000" style="" >+++</text>
<text x="519.6" y="605.4" font-size="14.5" text-anchor="middle" fill="#000" style="" >+++</text>
<text x="572.3" y="605.4" font-size="14.5" text-anchor="middle" fill="#000" style="" >+++</text>
<text x="624" y="599.4" font-size="14.5" text-anchor="middle" fill="#000" style="" >+++</text>
<text x="464.4" y="621.8" font-size="15" text-anchor="middle" fill="#000" style="" >###</text>
<text x="519.75" y="627.4" font-size="20" text-anchor="middle" fill="#000" style="font-weight:bold;" >*</text>
<text x="572.85" y="627.4" font-size="20" text-anchor="middle" fill="#000" style="font-weight:bold;" >**</text>
<text x="624" y="621.8" font-size="15" text-anchor="middle" fill="#000" style="" >##</text>
</svg>
</body></html>
